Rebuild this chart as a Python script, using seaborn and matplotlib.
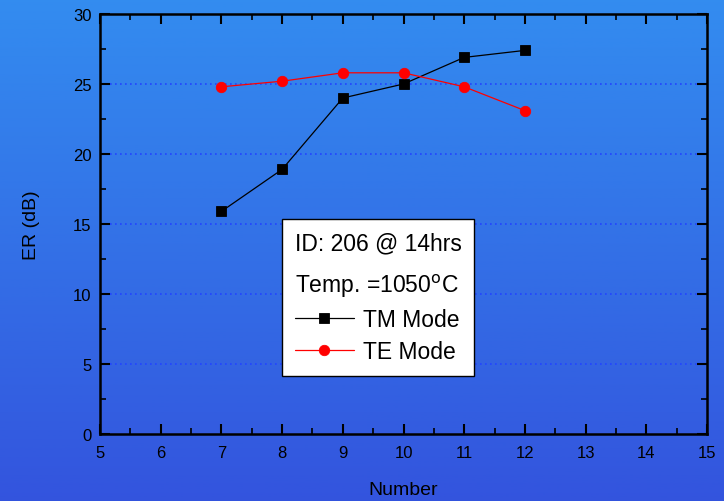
import matplotlib
matplotlib.use("Agg")
import matplotlib.pyplot as plt
import seaborn as sns
import pandas as pd
import numpy as np
from matplotlib.ticker import MultipleLocator

# data
number = [7, 8, 9, 10, 11, 12]
tm_mode = [15.9, 18.9, 24.0, 25.0, 26.9, 27.4]
te_mode = [24.8, 25.2, 25.8, 25.8, 24.8, 23.1]
modes = ["TM Mode", "TE Mode"]

df = pd.DataFrame({
    "Number": number * 2,
    "ER": tm_mode + te_mode,
    "Mode": [modes[0]] * len(number) + [modes[1]] * len(number),
})

sns.set_style("ticks")
plt.rcParams["font.family"] = ["Liberation Sans", "DejaVu Sans"]
plt.rcParams["text.color"] = "black"
plt.rcParams["axes.labelcolor"] = "black"

fig = plt.figure(figsize=(7.24, 5.02), dpi=100)

# blue gradient background
bg = fig.add_axes([0, 0, 1, 1], zorder=-10)
top = np.array([0.20, 0.55, 0.94])
bot = np.array([0.20, 0.33, 0.87])
t = np.linspace(0, 1, 256)[:, None]
grad = (top * (1 - t) + bot * t)[:, None, :]
bg.imshow(grad, aspect="auto", extent=[0, 1, 0, 1])
bg.axis("off")

ax = fig.add_axes([100 / 724, 1 - 435 / 502, 607 / 724, 420 / 502])
ax.set_facecolor("none")

sns.lineplot(data=df, x="Number", y="ER", hue="Mode", style="Mode",
             palette={"TM Mode": "black", "TE Mode": "red"},
             markers={"TM Mode": "s", "TE Mode": "o"}, dashes=False,
             markersize=7.5, linewidth=0.9, markeredgewidth=0.6,
             ax=ax, legend=True)
for ln in ax.lines:
    ln.set_markeredgecolor(ln.get_color())

ax.set_xlim(5, 15)
ax.set_ylim(0, 30)
ax.xaxis.set_major_locator(MultipleLocator(1))
ax.xaxis.set_minor_locator(MultipleLocator(0.5))
ax.yaxis.set_major_locator(MultipleLocator(5))
ax.yaxis.set_minor_locator(MultipleLocator(2.5))
ax.tick_params(which="both", direction="in", top=True, right=True,
               colors="black", labelsize=12)
ax.tick_params(which="major", length=7, width=1.5)
ax.tick_params(which="minor", length=4, width=1.2)
ax.tick_params(axis="x", pad=8)
ax.tick_params(axis="y", pad=6)
for s in ax.spines.values():
    s.set_linewidth(1.8)
    s.set_color("black")
    s.set_visible(True)

for yv in [5, 10, 15, 20, 25]:
    ax.axhline(yv, color="#2244ff", linestyle=(0, (1, 2)), linewidth=1.2, zorder=0)

ax.set_xlabel("Number", fontsize=14, labelpad=15, color="black")
ax.set_ylabel("ER (dB)", fontsize=14, labelpad=24, color="black")

handles, labels = ax.get_legend_handles_labels()
leg = ax.legend(handles, labels, loc="upper left",
                bbox_to_anchor=((282 - 100) / 607, (435 - 220) / 420),
                borderaxespad=0,
                title="ID: 206 @ 14hrs\nTemp. =1050$^\\mathrm{o}$C",
                alignment="left", fontsize=16.5, title_fontsize=16.5,
                frameon=True, fancybox=False, edgecolor="black",
                framealpha=1, handlelength=2.6, handletextpad=0.4,
                labelspacing=0.4, borderpad=0.55)
leg.get_frame().set_linewidth(1.0)
leg.get_title().set_linespacing(1.85)
for txt in leg.get_texts():
    txt.set_color("black")
leg.get_title().set_color("black")

fig.savefig("out.png", dpi=100)
